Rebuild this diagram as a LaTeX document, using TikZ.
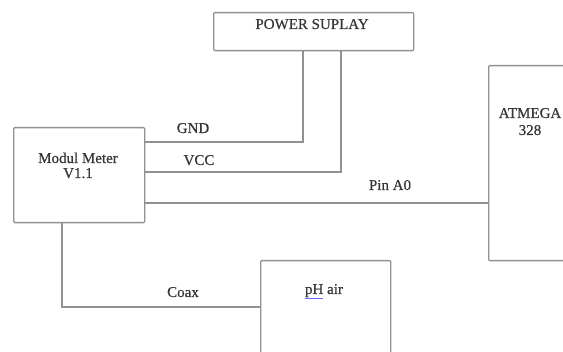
\documentclass[tikz,border=0pt]{standalone}
\usepackage{fontspec}
\setmainfont{Liberation Serif}[FakeBold=0.6]
\definecolor{linegray}{RGB}{145,145,145}
\definecolor{txt}{RGB}{55,55,55}
\begin{document}
\begin{tikzpicture}[x=1pt,y=-1pt,
  box/.style={draw=linegray, line width=1.3pt, rounded corners=1pt, inner sep=0pt, anchor=north west},
  wire/.style={draw=linegray, line width=1.3pt},
  lbl/.style={text=txt, font=\fontsize{15}{16}\selectfont, inner sep=0pt, anchor=base}]
\useasboundingbox (0,0) rectangle (563,352);
\clip (0,0) rectangle (563,352);
\fill[white] (0,0) rectangle (563,352);
% boxes
\node[box, minimum width=200pt, minimum height=38pt] (ps) at (213,12) {};
\node[box, minimum width=131pt, minimum height=95pt] (mm) at (13,127) {};
\node[box, minimum width=120pt, minimum height=195pt] (at) at (488,65) {};
\node[box, minimum width=130pt, minimum height=120pt] (ph) at (260,260) {};
% texts
\node[lbl] (tps) at (312,29) {POWER SUPLAY};
\node[lbl] (tmm1) at (78,163) {Modul Meter};
\node[lbl] (tmm2) at (78,178) {V1.1};
\node[lbl] (tat1) at (530,118) {ATMEGA};
\node[lbl] (tat2) at (530,135) {328};
\node[lbl] (tph) at (324,294) {{\color{blue!60!white}\underline{\textcolor{txt}{pH}}} air};
\node[lbl] (tgnd) at (193,133) {GND};
\node[lbl] (tvcc) at (199,165) {VCC};
\node[lbl] (tpin) at (390,190) {Pin A0};
\node[lbl] (tcoax) at (183,297) {Coax};
% connectors
\coordinate (g) at (303,142);
\coordinate (v) at (341,172);
\coordinate (p) at (0,203);
\coordinate (c) at (62,307);
\draw[wire] (mm.east |- g) -| (ps.south -| g);
\draw[wire] (mm.east |- v) -| (ps.south -| v);
\draw[wire] (mm.east |- p) -- (at.west |- p);
\draw[wire] (mm.south -| c) |- (ph.west |- c);
\end{tikzpicture}
\end{document}
